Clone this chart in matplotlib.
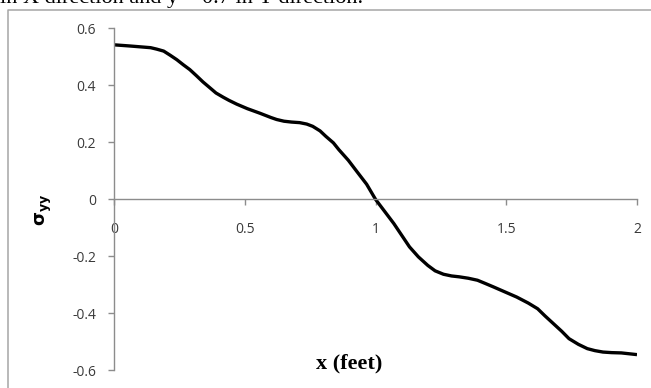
import matplotlib
matplotlib.use("Agg")
import matplotlib.pyplot as plt
from matplotlib.lines import Line2D

# ---- data ----
x_feet = [0.00, 0.06, 0.14, 0.163, 0.19, 0.214, 0.24, 0.265, 0.29, 0.316,
          0.34, 0.367, 0.39, 0.418, 0.44, 0.469, 0.51, 0.558, 0.60, 0.622,
          0.65, 0.679, 0.71, 0.737, 0.76, 0.788, 0.81, 0.839, 0.86, 0.896,
          0.93, 0.966, 1.00, 1.07, 1.10, 1.13, 1.164, 1.20, 1.228, 1.26,
          1.291, 1.32, 1.355, 1.39, 1.419, 1.45, 1.495, 1.54, 1.584, 1.62,
          1.648, 1.68, 1.712, 1.74, 1.776, 1.81, 1.839, 1.87, 1.903, 1.94,
          2.00]
sigma_yy = [0.542, 0.538, 0.532, 0.527, 0.520, 0.506, 0.490, 0.472, 0.455, 0.433,
            0.412, 0.391, 0.373, 0.358, 0.347, 0.334, 0.318, 0.302, 0.287, 0.280,
            0.274, 0.271, 0.269, 0.264, 0.256, 0.240, 0.221, 0.198, 0.174, 0.137,
            0.096, 0.053, 0.000, -0.085, -0.126, -0.167, -0.202, -0.232, -0.251, -0.263,
            -0.269, -0.272, -0.277, -0.284, -0.295, -0.307, -0.325, -0.343, -0.364, -0.384,
            -0.409, -0.436, -0.463, -0.489, -0.509, -0.524, -0.531, -0.536, -0.538, -0.539,
            -0.545]
x_ticks = [0, 0.5, 1, 1.5, 2]
x_ticklabels = ["0", "0.5", "1", "1.5", "2"]
y_ticks = [-0.6, -0.4, -0.2, 0, 0.2, 0.4, 0.6]
y_ticklabels = ["-0.6", "-0.4", "-0.2", "0", "0.2", "0.4", "0.6"]
caption = "in X direction and y = 0.7 in Y direction."

W, H = 651, 388
fig = plt.figure(figsize=(W / 100, H / 100), dpi=100)

def fx(px):
    return px / W

def fy(py):
    return 1 - py / H

axis_gray = "#8c8c8c"
text_col = "#3a3a3a"

# outer chart border (cropped on right and bottom)
fig.add_artist(Line2D([fx(8), fx(8), fx(W + 5)], [fy(H + 5), fy(9.5), fy(9.5)],
                      transform=fig.transFigure, color="#a6a6a6", lw=1.1))

# cropped caption line from the page above
fig.text(fx(0), fy(2.5), caption, ha="left", va="baseline",
         fontsize=16, family="Liberation Serif", color="black")

left, right = 114, 637
top, bottom = 28.3, 370.3
ax = fig.add_axes([fx(left), fy(bottom), fx(right) - fx(left), (bottom - top) / H])
ax.set_facecolor("none")

ax.plot(x_feet, sigma_yy, color="black", lw=2.4, solid_joinstyle="round",
        solid_capstyle="butt")

ax.set_xlim(0, 2)
ax.set_ylim(-0.6, 0.6)

ax.spines["top"].set_visible(False)
ax.spines["right"].set_visible(False)
ax.spines["left"].set_position(("data", 0))
ax.spines["bottom"].set_position(("data", 0))
for s in ("left", "bottom"):
    ax.spines[s].set_color(axis_gray)
    ax.spines[s].set_linewidth(1.0)

ax.set_xticks(x_ticks)
ax.set_xticklabels(x_ticklabels)
ax.set_yticks(y_ticks)
ax.set_yticklabels(y_ticklabels)

ax.tick_params(axis="x", direction="out", length=4.3, width=1.0, color=axis_gray,
               pad=12, labelsize=10, labelcolor=text_col)
ax.tick_params(axis="y", direction="out", length=4.3, width=1.0, color=axis_gray,
               pad=8.5, labelsize=10, labelcolor=text_col)
for lab in ax.get_xticklabels() + ax.get_yticklabels():
    lab.set_family("Open Sans")

# y label: bold sigma with subscript yy, rotated
ax.set_ylabel(r"$\mathbf{\sigma_{yy}}$", fontsize=13, rotation=90)
ax.yaxis.set_label_coords((44 - left) / (right - left), (bottom - 210) / (bottom - top))
ax.yaxis.label.set_va("center")
ax.yaxis.label.set_ha("center")

ax.set_xlabel("x (feet)", fontsize=16, fontweight="bold", family="Liberation Serif")
ax.xaxis.set_label_coords((349 - left) / (right - left), (bottom - 363) / (bottom - top))
ax.xaxis.label.set_va("center")

fig.savefig("out.png", dpi=100)
